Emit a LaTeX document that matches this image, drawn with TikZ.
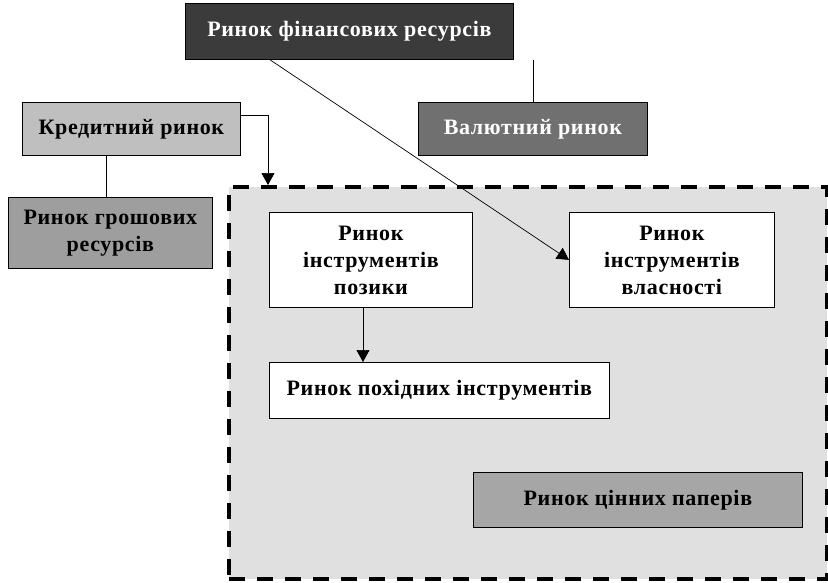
\documentclass[tikz,border=0pt]{standalone}
\usepackage{fontspec}
\setmainfont{Liberation Serif}
\newfontfamily\boxfont[LetterSpace=3]{Liberation Serif}
\usetikzlibrary{arrows.meta}
\begin{document}
\begin{tikzpicture}[x=1pt,y=-1pt,
  box/.style={draw=black, line width=0.8pt, font=\boxfont\fontsize{22}{27}\selectfont\bfseries, align=center, inner sep=0pt},
  link/.style={draw=black, line width=0.7pt},
  arr/.style={link, -{Triangle[width=13pt,length=12pt]}}]
\useasboundingbox (0,0) rectangle (828,582);
\fill[white] (0,0) rectangle (828,582);
% dashed frame of the securities market
\node[draw=black, fill=black!12, line width=4pt, dash pattern=on 16pt off 12pt, minimum width=598pt, minimum height=392pt, anchor=north west, inner sep=0pt] (frame) at (227,185) {};
% boxes
\node[box, fill=black!77, text=white, minimum width=328pt, minimum height=56pt, anchor=north west] (fin) at (185,3) {Ринок фінансових ресурсів};
\node[box, fill=black!56, text=white, minimum width=229pt, minimum height=53pt, anchor=north west] (val) at (418,102) {Валютний ринок};
\node[box, fill=black!25, minimum width=218pt, minimum height=53pt, anchor=north west] (kred) at (22,102) {Кредитний ринок};
\node[box, fill=black!38, minimum width=204pt, minimum height=71pt, anchor=north west] (grosh) at (8,197) {Ринок грошових\\ресурсів};
\node[box, fill=white, minimum width=203pt, minimum height=95pt, anchor=north west] (poz) at (269,212) {Ринок\\інструментів\\позики};
\node[box, fill=white, minimum width=205pt, minimum height=95pt, anchor=north west] (vlas) at (569,212) {Ринок\\інструментів\\власності};
\node[box, fill=white, minimum width=340pt, minimum height=56pt, anchor=north west] (pokh) at (269,362) {Ринок похідних інструментів};
\node[box, fill=black!35, minimum width=329pt, minimum height=55pt, anchor=north west] (cin) at (473,472) {Ринок цінних паперів};
% connectors
\draw[link] (fin.south -| val.north) -- (val.north);
\draw[link] (kred.south -| 106,0) -- (grosh.north -| 106,0);
\draw[arr] (fin.south -| 270,0) -- (vlas.west);
\draw[arr] (kred.east |- 0,115) -| (frame.north -| 268,0);
\draw[arr] (poz.south -| 363,0) -- (pokh.north -| 363,0);
\end{tikzpicture}
\end{document}
